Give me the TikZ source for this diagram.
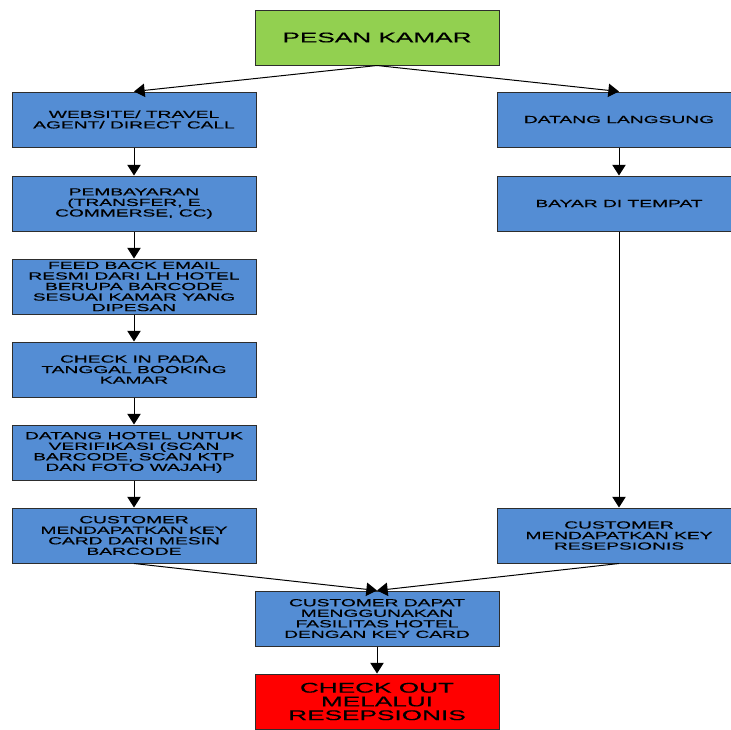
\documentclass[tikz,border=0pt]{standalone}
\usepackage{fontspec}
\newfontfamily\boxfont[FakeStretch=1.87,FakeBold=0.4]{Liberation Sans}
\usetikzlibrary{arrows.meta}

\definecolor{boxblue}{RGB}{84,141,212}
\definecolor{boxgreen}{RGB}{146,208,80}
\definecolor{boxred}{RGB}{255,0,0}
\definecolor{boxline}{RGB}{45,45,45}

\tikzset{every picture/.style={line width=0.75pt}}
\tikzset{
	flowbox/.style={draw=boxline, fill=boxblue, minimum width=183pt, minimum height=41.25pt, inner sep=0pt, align=center, font=\boxfont\fontsize{7.7}{7.9}\selectfont},
	bigbox/.style={flowbox, font=\boxfont\fontsize{10.5}{10.3}\selectfont},
	flow/.style={-{Triangle[width=10pt,length=8pt]}}
}

\begin{document}
\begin{tikzpicture}[x=0.75pt,y=0.75pt,yscale=-1,xscale=1]
		\clip (0,0) rectangle (731,729);

		% Text Node
		\node [bigbox, fill=boxgreen] (pesan) at (377,37.5) {PESAN KAMAR};
		% Text Node
		\node [flowbox] (website) at (134,119.5) {WEBSITE/ TRAVEL\\AGENT/ DIRECT CALL};
		% Text Node
		\node [flowbox] (bayar) at (134,203.5) {PEMBAYARAN\\(TRANSFER, E\\COMMERSE, CC)};
		% Text Node
		\node [flowbox] (feedback) at (134,286.5) {FEED BACK EMAIL\\RESMI DARI LH HOTEL\\BERUPA BARCODE\\SESUAI KAMAR YANG\\DIPESAN};
		% Text Node
		\node [flowbox] (checkin) at (134,369.5) {CHECK IN PADA\\TANGGAL BOOKING\\KAMAR};
		% Text Node
		\node [flowbox] (verif) at (134,452.5) {DATANG HOTEL UNTUK\\VERIFIKASI (SCAN\\BARCODE, SCAN KTP\\DAN FOTO WAJAH)};
		% Text Node
		\node [flowbox] (keycard) at (134,535.5) {CUSTOMER\\MENDAPATKAN KEY\\CARD DARI MESIN\\BARCODE};
		% Text Node
		\node [flowbox] (datang) at (619,119.5) {DATANG LANGSUNG};
		% Text Node
		\node [flowbox] (tempat) at (619,203.5) {BAYAR DI TEMPAT};
		% Text Node
		\node [flowbox] (keyres) at (619,535.5) {CUSTOMER\\MENDAPATKAN KEY\\RESEPSIONIS};
		% Text Node
		\node [flowbox] (fasilitas) at (377,618.5) {CUSTOMER DAPAT\\MENGGUNAKAN\\FASILITAS HOTEL\\DENGAN KEY CARD};
		% Text Node
		\node [bigbox, fill=boxred] (checkout) at (377,701.5) {CHECK OUT\\MELALUI\\RESEPSIONIS};

		%Straight Lines
		\draw [flow] (pesan.south) -- (website.north);
		%Straight Lines
		\draw [flow] (pesan.south) -- (datang.north);
		%Straight Lines
		\draw [flow] (website) -- (bayar);
		%Straight Lines
		\draw [flow] (bayar) -- (feedback);
		%Straight Lines
		\draw [flow] (feedback) -- (checkin);
		%Straight Lines
		\draw [flow] (checkin) -- (verif);
		%Straight Lines
		\draw [flow] (verif) -- (keycard);
		%Straight Lines
		\draw [flow] (datang) -- (tempat);
		%Straight Lines
		\draw [flow] (tempat) -- (keyres);
		%Straight Lines
		\draw [flow] (keycard.south) -- (fasilitas.north);
		%Straight Lines
		\draw [flow] (keyres.south) -- (fasilitas.north);
		%Straight Lines
		\draw [flow] (fasilitas) -- (checkout);
	\end{tikzpicture}
\end{document}
